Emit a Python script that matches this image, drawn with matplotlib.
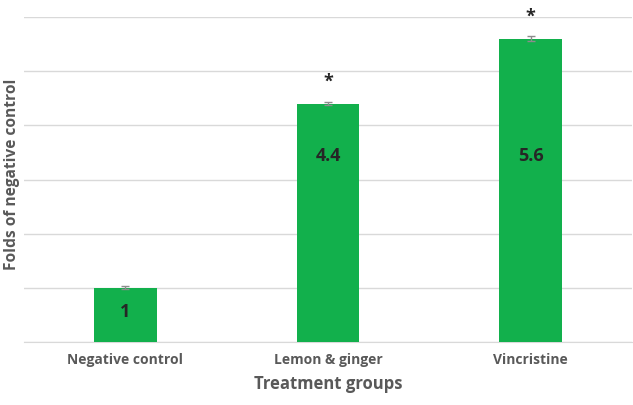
import matplotlib
matplotlib.use("Agg")
import matplotlib.pyplot as plt

categories = ["Negative control", "Lemon & ginger", "Vincristine"]
values = [1.0, 4.4, 5.6]
errors = [0.03, 0.03, 0.05]
labels = ["1", "4.4", "5.6"]
significant = [False, True, True]

plt.rcParams['font.family'] = ['Open Sans', 'DejaVu Sans']

fig = plt.figure(figsize=(6.33, 4.05), dpi=100)
ax = fig.add_axes([24/633, (405-342)/405, (632-24)/633, (342-17)/405])

green = "#12B04C"
x = list(range(len(categories)))
ax.bar(x, values, width=0.31, color=green, zorder=3)
ax.errorbar(x, values, yerr=errors, fmt='none', ecolor="#8c8c8c", elinewidth=1, capsize=3, zorder=4)

for xi, v, lab, sig in zip(x, values, labels, significant):
    ly = v * 0.56 if v < 3 else 3.43
    ax.text(xi, ly, lab, ha='center', va='center', fontsize=13, fontweight='bold', color="#262626", zorder=5)
    if sig:
        ax.text(xi, v + 0.4, "*", ha='center', va='center', fontsize=13, fontweight='bold', color="#262626", zorder=5)

ax.set_xlim(-0.5, 2.5)
ax.set_ylim(0, 6)
ax.set_yticks(range(0, 7))
ax.set_yticklabels([])
ax.tick_params(axis='y', length=0)
ax.tick_params(axis='x', length=0, pad=8)
ax.set_xticks(x)
ax.set_xticklabels(categories, fontsize=10, fontweight='bold', color="#595959")
ax.grid(axis='y', color="#d9d9d9", linewidth=1, zorder=0)
for s in ["top", "right", "left"]:
    ax.spines[s].set_visible(False)
ax.spines["bottom"].set_color("#d9d9d9")
ax.spines["bottom"].set_zorder(1)

ax.set_xlabel("Treatment groups", fontsize=12, fontweight='bold', color="#595959", labelpad=6)
fig.text(12/633, 1 - 174/405, "Folds of negative control", rotation=90, ha='center', va='center',
         fontsize=11.2, fontweight='bold', color="#595959")

fig.savefig("out.png", dpi=100)
